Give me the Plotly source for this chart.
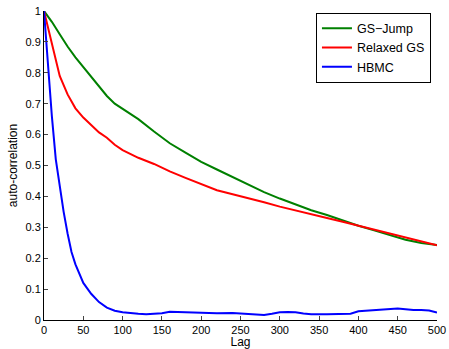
import plotly.graph_objects as go

lag_gs = [0, 10, 20, 30, 40, 50, 60, 70, 80, 90, 100, 120, 140, 160, 180, 200, 220, 240, 260,
          280, 300, 320, 340, 360, 380, 400, 420, 440, 460, 480, 500]
gs_jump = [1.0, 0.965, 0.925, 0.885, 0.85, 0.818, 0.787, 0.755, 0.725, 0.70, 0.683, 0.65, 0.61,
           0.572, 0.542, 0.512, 0.487, 0.462, 0.438, 0.414, 0.393, 0.375, 0.355, 0.34, 0.322, 0.305,
           0.29, 0.275, 0.26, 0.249, 0.243]

lag_rgs = [0, 5, 10, 15, 20, 30, 40, 50, 60, 70, 80, 90, 100, 120, 140, 160, 180, 200, 220, 240,
           260, 280, 300, 320, 340, 360, 380, 400, 420, 440, 460, 480, 500]
relaxed_gs = [1.0, 0.945, 0.9, 0.84, 0.79, 0.73, 0.685, 0.655, 0.63, 0.607, 0.59, 0.567, 0.55,
              0.525, 0.505, 0.481, 0.46, 0.44, 0.42, 0.407, 0.395, 0.381, 0.367, 0.354, 0.341,
              0.33, 0.318, 0.305, 0.292, 0.279, 0.266, 0.253, 0.242]

lag_hb = [0, 5, 10, 15, 20, 25, 30, 35, 40, 50, 60, 70, 80, 90, 100, 110, 120, 130, 140, 150,
          160, 170, 180, 190, 200, 220, 240, 260, 270, 280, 290, 300, 310, 320, 330, 340, 360,
          380, 390, 400, 410, 420, 430, 440, 450, 460, 470, 480, 490, 500]
hbmc = [1.0, 0.82, 0.66, 0.52, 0.43, 0.35, 0.28, 0.22, 0.18, 0.12, 0.085, 0.058, 0.04, 0.03,
        0.025, 0.022, 0.02, 0.019, 0.02, 0.022, 0.027, 0.026, 0.025, 0.024, 0.022, 0.022, 0.023,
        0.019, 0.017, 0.016, 0.02, 0.025, 0.026, 0.025, 0.021, 0.019, 0.019, 0.019, 0.02, 0.028,
        0.03, 0.031, 0.033, 0.036, 0.037, 0.035, 0.032, 0.032, 0.031, 0.024]

x_ticks = list(range(0, 501, 50))
y_ticks = [0, 0.1, 0.2, 0.3, 0.4, 0.5, 0.6, 0.7, 0.8, 0.9, 1]
y_tick_text = ["0", "0.1", "0.2", "0.3", "0.4", "0.5", "0.6", "0.7", "0.8", "0.9", "1"]

fig = go.Figure()
fig.add_trace(go.Scatter(x=lag_gs, y=gs_jump, mode="lines", name="GS\u2212Jump",
                         line=dict(color="rgb(0,128,0)", width=2)))
fig.add_trace(go.Scatter(x=lag_rgs, y=relaxed_gs, mode="lines", name="Relaxed GS",
                         line=dict(color="rgb(255,0,0)", width=2)))
fig.add_trace(go.Scatter(x=lag_hb, y=hbmc, mode="lines", name="HBMC",
                         line=dict(color="rgb(0,0,255)", width=2)))

fig.update_layout(
    width=449, height=349,
    margin=dict(l=44, r=12, t=11, b=29),
    paper_bgcolor="white", plot_bgcolor="white",
    font=dict(family="Liberation Sans, Arial, sans-serif", size=11, color="black"),
    legend=dict(x=0.692, y=0.995, xanchor="left", yanchor="top",
                bordercolor="black", borderwidth=1, bgcolor="white",
                font=dict(size=12.5), tracegroupgap=0, itemwidth=30),
    showlegend=True,
)
fig.update_xaxes(range=[0, 500], tickvals=x_ticks, ticks="inside", ticklen=4,
                 showline=True, linecolor="black", linewidth=1, showgrid=False,
                 zeroline=False, automargin=False,
                 title=dict(text="Lag", standoff=0, font=dict(size=12)))
fig.update_yaxes(range=[0, 1], tickvals=y_ticks, ticktext=y_tick_text, ticks="inside", ticklen=4,
                 showline=True, linecolor="black", linewidth=1, showgrid=False,
                 zeroline=False, automargin=False,
                 title=dict(text="auto-correlation", standoff=5, font=dict(size=12)))

fig.write_html("out.html", config={"displayModeBar": False},
               post_script="document.body.style.margin='0px';")
